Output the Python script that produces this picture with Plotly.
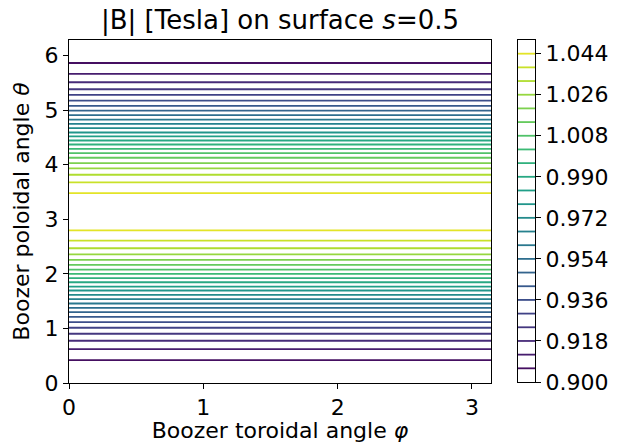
import numpy as np
import plotly.graph_objects as go
from plotly.colors import sample_colorscale, sequential

# |B| contour levels (Tesla) that have lines in the plot
levels = [0.906, 0.912, 0.918, 0.924, 0.930, 0.936, 0.942, 0.948, 0.954, 0.960,
          0.966, 0.972, 0.978, 0.984, 0.990, 0.996, 1.002, 1.008, 1.014, 1.020,
          1.026, 1.032, 1.038, 1.044]
# poloidal angle where each level line lies, lower half (theta < pi)
theta_low = [0.420, 0.622, 0.774, 0.902, 1.012, 1.115, 1.213, 1.298, 1.377, 1.456,
             1.536, 1.615, 1.694, 1.767, 1.846, 1.920, 1.999, 2.078, 2.163, 2.255,
             2.358, 2.468, 2.608, 2.797]
# upper half (theta > pi)
theta_high = [5.862, 5.661, 5.509, 5.381, 5.277, 5.174, 5.076, 4.991, 4.906, 4.826,
              4.747, 4.668, 4.589, 4.516, 4.442, 4.369, 4.290, 4.211, 4.126, 4.028,
              3.930, 3.815, 3.675, 3.480]
# colour-scale limits and colour-bar tick values
cmin, cmax = 0.900, 1.050
cbar_ticks = [0.900, 0.918, 0.936, 0.954, 0.972, 0.990, 1.008, 1.026, 1.044]
phi_range = [0.0, np.pi]
theta_range = [0.0, 2 * np.pi]

W, H = 621, 443
FONT = "DejaVu Sans"
colors = sample_colorscale(sequential.Viridis, [(l - cmin) / (cmax - cmin) for l in levels])

fig = go.Figure()
for lev, tl, th, c in zip(levels, theta_low, theta_high, colors):
    fig.add_trace(go.Scatter(
        x=[phi_range[0], phi_range[1], None, phi_range[0], phi_range[1]],
        y=[tl, tl, None, th, th],
        mode="lines", line=dict(color=c, width=1.8),
        showlegend=False, hoverinfo="skip", xaxis="x", yaxis="y"))
    fig.add_trace(go.Scatter(
        x=[0, 1], y=[lev, lev], mode="lines", line=dict(color=c, width=1.8),
        showlegend=False, hoverinfo="skip", xaxis="x2", yaxis="y2"))

x0, x1 = 69 / W, 491 / W
y0, y1 = (H - 383) / H, (H - 40) / H
axis_common = dict(showline=True, mirror=True, linecolor="black", linewidth=1,
                   ticks="outside", ticklen=5, tickwidth=1, tickcolor="black",
                   showgrid=False, zeroline=False, automargin=False,
                   tickfont=dict(family=FONT, size=22, color="black"))
fig.update_layout(
    width=W, height=H, margin=dict(l=0, r=0, t=0, b=0, autoexpand=False),
    paper_bgcolor="white", plot_bgcolor="white",
    font=dict(family=FONT, color="black"),
    title=dict(text="|B| [Tesla] on surface <i>s</i>=0.5", x=(x0 + x1) / 2, xanchor="center",
               y=1 - 20 / H, yanchor="middle", font=dict(family=FONT, size=26, color="black")),
    xaxis=dict(domain=[x0, x1], range=phi_range, tickvals=[0, 1, 2, 3],
               title=dict(text="Boozer toroidal angle <i>φ</i>", font=dict(family=FONT, size=22),
                          standoff=6),
               **axis_common),
    yaxis=dict(domain=[y0, y1], range=theta_range, tickvals=[0, 1, 2, 3, 4, 5, 6],
               title=dict(text="Boozer poloidal angle <i>θ</i>", font=dict(family=FONT, size=22),
                          standoff=8),
               **axis_common),
    xaxis2=dict(domain=[518 / W, 535 / W], range=[0, 1], anchor="y2",
                showline=True, mirror=True, linecolor="black", linewidth=1, automargin=False,
                showticklabels=False, ticks="", showgrid=False, zeroline=False),
    yaxis2=dict(domain=[(H - 382) / H, y1], range=[cmin, cmax], anchor="x2", side="right",
                tickvals=cbar_ticks, ticktext=[f"{v:.3f}" for v in cbar_ticks],
                **axis_common),
)
fig.write_html("out.html")
